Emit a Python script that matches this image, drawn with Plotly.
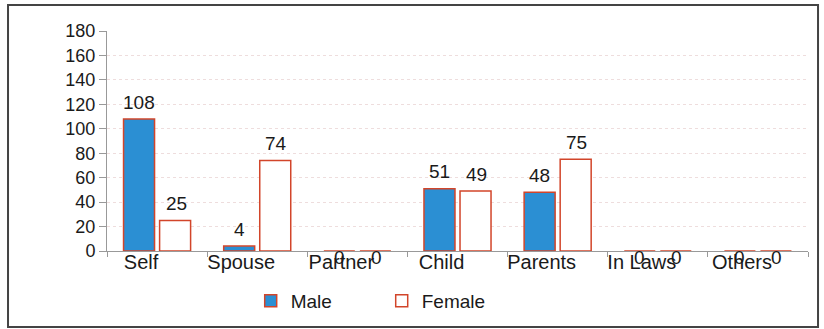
import plotly.graph_objects as go

categories = ["Self", "Spouse", "Partner", "Child", "Parents", "In Laws", "Others"]
male = [108, 4, 0, 51, 48, 0, 0]
female = [25, 74, 0, 49, 75, 0, 0]
y_ticks = [0, 20, 40, 60, 80, 100, 120, 140, 160, 180]

font_family = "Liberation Sans, Arial, sans-serif"
txt = "#1a1a1a"

fig = go.Figure()
fig.add_trace(go.Bar(
    x=categories, y=male, name="Male",
    marker=dict(color="#2b8fd3", line=dict(color="#d2452a", width=1.5)),
))
fig.add_trace(go.Bar(
    x=categories, y=female, name="Female",
    marker=dict(color="white", line=dict(color="#d2452a", width=1.5)),
))

annotations = []
for series, shift in ((male, -18), (female, 19)):
    for cat, v in zip(categories, series):
        annotations.append(dict(
            x=cat, y=v, xref="x", yref="y", text=str(v), showarrow=False,
            xshift=shift, yshift=(17 if v > 0 else -6), yanchor="middle",
            font=dict(size=19, color=txt, family=font_family),
        ))

fig.update_layout(
    width=824, height=329,
    margin=dict(l=107, r=16, t=31, b=78, autoexpand=False),
    paper_bgcolor="white", plot_bgcolor="white",
    barmode="group", bargap=0.28, bargroupgap=0.14,
    font=dict(family=font_family, size=18, color=txt),
    showlegend=True,
    legend=dict(orientation="h", x=0.205, xanchor="left", y=-0.227, yanchor="middle",
                font=dict(size=19, color=txt), itemwidth=30,
                bgcolor="rgba(0,0,0,0)",
                traceorder="normal", entrywidth=86),
    annotations=annotations,
    shapes=[dict(type="rect", xref="paper", yref="paper",
                 x0=-0.1412, x1=1.0143, y0=-0.345, y1=1.118,
                 line=dict(color="#444444", width=2))],
)
fig.update_yaxes(range=[0, 180], tickvals=y_ticks, showline=True, linecolor="#999999",
                 linewidth=1, ticks="outside", ticklen=7, tickcolor="#999999",
                 showgrid=True, gridcolor="#eedddd", griddash="dot", gridwidth=1,
                 tickfont=dict(size=18), zeroline=False)
fig.update_xaxes(showline=True, linecolor="#999999", linewidth=1, ticks="outside",
                 tickson="boundaries", ticklen=5, tickcolor="#999999",
                 showgrid=False, tickfont=dict(size=20),
                 ticklabelshift=-16, ticklabelstandoff=-7)

fig.write_html("out.html")
